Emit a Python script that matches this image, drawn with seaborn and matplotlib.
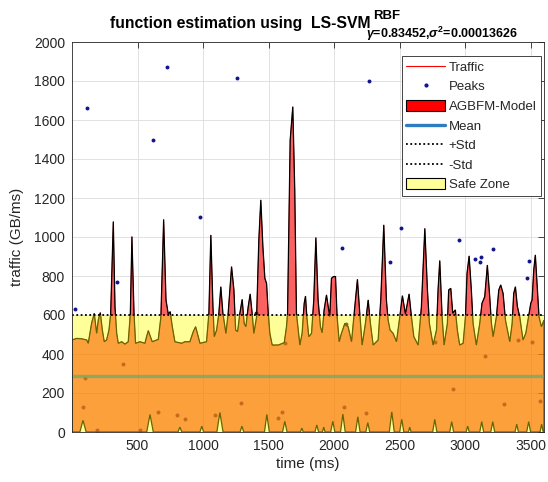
import numpy as np
import pandas as pd
import matplotlib
matplotlib.use("Agg")
import matplotlib.pyplot as plt
import seaborn as sns
from matplotlib.lines import Line2D
from matplotlib.patches import Patch

# ---------------- data ----------------
time_ms = [0, 36, 74, 112, 124, 150, 170, 188, 201, 216, 231, 246, 264, 282, 295, 315, 328, 341, 353, 379,
           404, 429, 445, 457, 473, 485, 518, 556, 569, 582, 594, 612, 658, 678, 699, 717, 734, 749, 765, 785,
           836, 861, 899, 925, 943, 963, 976, 1026, 1044, 1059, 1075, 1085, 1103, 1120, 1135, 1151, 1174, 1191,
           1217, 1235, 1248, 1263, 1280, 1298, 1313, 1326, 1344, 1359, 1374, 1387, 1408, 1425, 1440, 1456, 1471,
           1484, 1497, 1509, 1527, 1573, 1619, 1636, 1644, 1664, 1684, 1699, 1712, 1738, 1755, 1771, 1781, 1791,
           1806, 1827, 1844, 1860, 1877, 1895, 1908, 1923, 1941, 1954, 1966, 1979, 1994, 2010, 2022, 2038, 2055,
           2081, 2106, 2132, 2157, 2177, 2195, 2213, 2238, 2259, 2276, 2297, 2335, 2355, 2378, 2398, 2411, 2426,
           2449, 2475, 2500, 2520, 2543, 2571, 2589, 2607, 2640, 2665, 2691, 2711, 2726, 2754, 2780, 2792, 2805,
           2823, 2838, 2863, 2873, 2889, 2904, 2924, 2939, 2957, 2983, 3001, 3013, 3029, 3046, 3059, 3084, 3110,
           3127, 3148, 3168, 3186, 3199, 3212, 3237, 3255, 3270, 3288, 3306, 3321, 3339, 3357, 3369, 3382, 3397,
           3415, 3440, 3461, 3478, 3499, 3509, 3522, 3534, 3547, 3562, 3580, 3600]
traffic = [472, 480, 478, 472, 455, 560, 608, 506, 577, 612, 525, 463, 472, 523, 608, 1079, 640, 506, 455, 463,
           451, 463, 608, 1002, 608, 455, 463, 455, 489, 520, 497, 463, 475, 590, 1090, 677, 605, 617, 540, 463,
           455, 463, 463, 515, 540, 489, 455, 463, 608, 1010, 643, 489, 523, 608, 745, 608, 506, 608,
           848, 728, 523, 515, 608, 680, 557, 540, 643, 708, 608, 506, 591, 985, 1190, 950, 788,
           762, 608, 506, 446, 446, 458, 540, 608, 1497, 1668, 1241, 608, 446, 506, 660, 697, 591,
           489, 506, 677, 997, 677, 540, 509, 626, 703, 643, 591, 788, 797, 797, 591, 463, 506,
           557, 540, 463, 643, 783, 608, 446, 557, 677, 557, 446, 472, 677, 1062, 677, 574, 523,
           506, 463, 591, 699, 605, 708, 591, 489, 446, 643, 1044, 728, 557, 446, 523, 728, 879,
           591, 446, 557, 728, 737, 609, 626, 523, 446, 455, 591, 814, 903, 728, 557, 446, 557,
           660, 694, 856, 694, 557, 489, 591, 728, 754, 711, 574, 523, 463, 557, 711, 745, 643,
           591, 472, 506, 574, 660, 677, 831, 908, 762, 591, 540, 574]

lower_time = [0, 60, 84, 108, 570, 595, 620, 808, 823, 838, 976, 990, 1004, 1105, 1128, 1152,
              1282, 1296, 1310, 1468, 1486, 1505, 1606, 1623, 1640, 1742, 1753, 1764, 1853, 1867, 1881,
              1910, 1920, 1930, 1973, 1989, 2005, 2048, 2066, 2084, 2163, 2180, 2197, 2241, 2256, 2271,
              2420, 2439, 2458, 2499, 2515, 2531, 2566, 2576, 2586, 2751, 2767, 2783, 2881, 2896, 2911,
              3006, 3018, 3030, 3110, 3125, 3140, 3194, 3209, 3224, 3379, 3392, 3405, 3468, 3483, 3498,
              3570, 3582, 3594, 3600]
lower_val = [0, 0, 60, 0, 0, 90, 0, 0, 25, 0, 0, 30, 0, 0, 100, 0,
             0, 30, 0, 0, 90, 0, 0, 55, 0, 0, 20, 0, 0, 36, 0,
             0, 25, 0, 0, 55, 0, 0, 92, 0, 0, 78, 0, 0, 48, 0,
             0, 103, 0, 0, 65, 0, 0, 25, 0, 0, 65, 0, 0, 53, 0,
             0, 30, 0, 0, 53, 0, 0, 53, 0, 0, 40, 0, 0, 53, 0,
             0, 40, 0, 0]

peak_time = [23, 112, 340, 615, 727, 976, 1255, 1400, 2063, 2266, 2424, 2507, 2952, 3077, 3110, 3122, 3211,
             3470, 3483, 2090, 386, 86, 99, 653, 798, 861, 193, 518, 1090, 1290, 1598, 1568, 1628, 2075,
             2244, 2767, 3148, 2905, 3293, 3400, 3508, 3567]
peak_val = [630, 1660, 771, 1497, 1874, 1101, 1817, 609, 942, 1800, 873, 1048, 985, 885, 870, 899, 938,
            788, 879, 555, 349, 126, 275, 104, 87, 67, 10, 10, 87, 150, 104, 70, 456, 130,
            99, 463, 391, 220, 145, 472, 463, 161]

mean_val = 285
plus_std = 600
minus_std = -30
safe_zone = [0, 600]

x_ticks = [500, 1000, 1500, 2000, 2500, 3000, 3500]
y_ticks = [0, 200, 400, 600, 800, 1000, 1200, 1400, 1600, 1800, 2000]

title_main = "function estimation using  LS-SVM"
title_sup = "RBF"
title_sub = r"$\gamma$=0.83452,$\sigma^2$=0.00013626"

# ---------------- style ----------------
sns.set_theme(style="whitegrid")
plt.rcParams['font.family'] = ['Liberation Sans', 'DejaVu Sans']
plt.rcParams['mathtext.fontset'] = 'custom'
plt.rcParams['mathtext.rm'] = 'Liberation Sans:bold'
plt.rcParams['mathtext.it'] = 'Liberation Sans:bold:italic'
plt.rcParams['mathtext.bf'] = 'Liberation Sans:bold'

TXT = '#262626'
W, H = 548, 482
fig = plt.figure(figsize=(W / 100, H / 100), dpi=100)
ax = fig.add_axes([72 / W, 50 / H, 472 / W, 390 / H])
ax.set_facecolor('white')
ax.set_axisbelow(True)

df_tr = pd.DataFrame({'time': time_ms, 'traffic': traffic})
df_pk = pd.DataFrame({'time': peak_time, 'traffic': peak_val})

# peaks (under the fills)
sns.scatterplot(data=df_pk, x='time', y='traffic', ax=ax, color='#14148a', s=8,
                linewidth=0, zorder=1.5, legend=False)
# traffic line
sns.lineplot(data=df_tr, x='time', y='traffic', ax=ax, color='red', lw=0.5,
             estimator=None, sort=False, zorder=1.6, legend=False)

# AGBFM model area (between lower curve and traffic)
poly_x = np.concatenate([np.asarray(time_ms), np.asarray(lower_time)[::-1]])
poly_y = np.concatenate([np.asarray(traffic), np.asarray(lower_val)[::-1]])
ax.fill(poly_x, poly_y, facecolor=(0.97, 0, 0, 0.62), edgecolor='black', lw=0.9, zorder=2)

# mean
ax.axhline(mean_val, color='#0072BD', lw=2.4, alpha=0.7, zorder=2.5)

# safe zone
ax.axhspan(safe_zone[0], safe_zone[1], facecolor=(1, 1, 0, 0.4), edgecolor='none', zorder=3)

# std lines
ax.axhline(plus_std, color='black', lw=1.3, ls=(0, (1, 1.4)), zorder=4)
ax.axhline(minus_std, color='black', lw=1.3, ls=(0, (1, 1.4)), zorder=4)

ax.set_xlim(0, 3600)
ax.set_ylim(0, 2000)
ax.set_xticks(x_ticks)
ax.set_yticks(y_ticks)
ax.grid(True, color='#dcdcdc', lw=0.6)
ax.tick_params(direction='in', top=True, right=True, length=4, width=0.6,
               colors=TXT, labelsize=10, pad=5)
for s in ax.spines.values():
    s.set_color(TXT)
    s.set_linewidth(0.6)
    s.set_zorder(5)

ax.set_xlabel('time (ms)', fontsize=11, color=TXT, labelpad=3)
ax.set_ylabel('traffic (GB/ms)', fontsize=11, color=TXT, labelpad=7)

# title built from three pieces (main, superscript, subscript)
renderer = fig.canvas.get_renderer()
t_main = fig.text(110 / W, 1 - 28 / H, title_main, fontsize=11.3, fontweight='bold',
                  color='black', ha='left', va='baseline')
bb = t_main.get_window_extent(renderer)
x_end = bb.x1 / W
fig.text(x_end + 3 / W, 1 - 19 / H, title_sup, fontsize=9.5, fontweight='bold',
         color='black', ha='left', va='baseline')
fig.text(x_end - 5 / W, 1 - 38 / H, title_sub, fontsize=9.0, fontweight='bold',
         color='black', ha='left', va='baseline')

handles = [
    Line2D([], [], color='red', lw=0.8),
    Line2D([], [], color='#14148a', marker='.', ls='none', markersize=4),
    Patch(facecolor='red', edgecolor='black', lw=0.8),
    Line2D([], [], color='#2f7dc0', lw=2.4),
    Line2D([], [], color='black', lw=1.3, ls=(0, (1, 1.4))),
    Line2D([], [], color='black', lw=1.3, ls=(0, (1, 1.4))),
    Patch(facecolor='#ffff99', edgecolor='black', lw=0.8),
]
labels = ['Traffic', 'Peaks', 'AGBFM-Model', 'Mean', '+Std', '-Std', 'Safe Zone']
leg = ax.legend(handles, labels, loc='upper right', bbox_to_anchor=(0.994, 0.964),
                fontsize=9.5, frameon=True, fancybox=False, framealpha=1,
                edgecolor=TXT, handlelength=2.9, handleheight=0.9, labelspacing=0.5,
                borderpad=0.35, handletextpad=0.3, borderaxespad=0)
leg.get_frame().set_linewidth(0.6)
leg.set_zorder(10)
for t in leg.get_texts():
    t.set_color(TXT)

fig.savefig('out.png', dpi=100)
